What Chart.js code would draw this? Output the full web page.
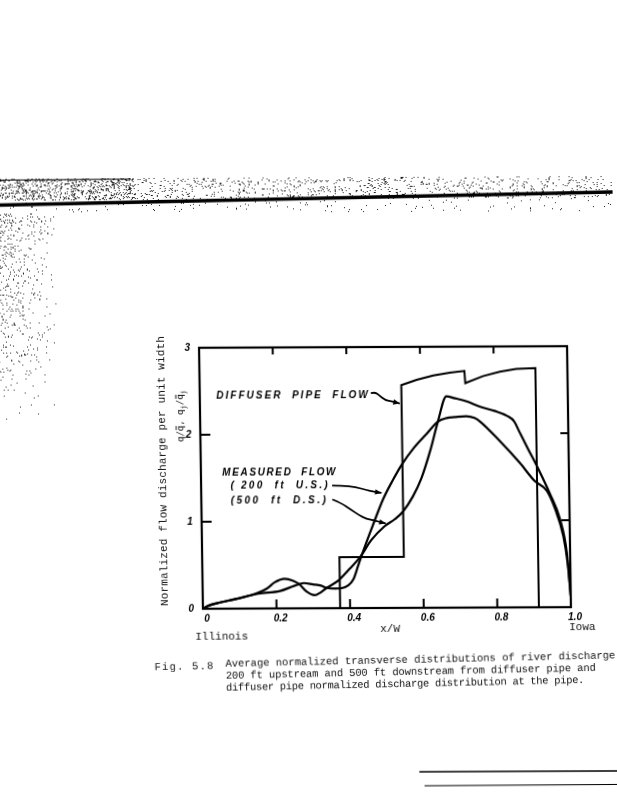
<!DOCTYPE html>
<html>
<head>
<meta charset="utf-8">
<script src="https://cdn.jsdelivr.net/npm/chart.js@4.4.0/dist/chart.umd.min.js"></script>
<style>
html, body { margin: 0; padding: 0; background: #fff; }
#wrap { width: 617px; height: 800px; position: relative; overflow: hidden; background: #fff; }
#c { display: block; transform-origin: 384px 478px; transform: rotate(-0.25deg) skewX(0.6deg); }
</style>
</head>
<body>
<div id="wrap"><canvas id="c" width="617" height="800"></canvas></div>
<script>
// axis ticks
const xTicks = [0, 0.2, 0.4, 0.6, 0.8, 1.0];
const yTicks = [0, 1, 2, 3];

// diffuser pipe flow (step distribution at the pipe)
const pipeX = [0, 0.373, 0.373, 0.548, 0.548, 0.59, 0.635, 0.68, 0.72, 0.722, 0.77, 0.816, 0.861, 0.913, 0.913, 1.0];
const pipeY = [0, 0, 0.585, 0.585, 2.56, 2.62, 2.67, 2.70, 2.72, 2.58, 2.66, 2.71, 2.74, 2.75, 0, 0];

// measured flow, 200 ft upstream
const usX = [0, 0.012, 0.04, 0.09, 0.15, 0.21, 0.25, 0.275, 0.30, 0.322, 0.336, 0.36, 0.378, 0.395, 0.41, 0.423, 0.433, 0.465, 0.494, 0.52,
             0.545, 0.58, 0.615, 0.646, 0.67, 0.692, 0.723, 0.745, 0.76, 0.814, 0.867, 0.907, 0.939, 0.961, 0.982, 0.993, 1.0];
const usY = [0, 0.03, 0.065, 0.11, 0.17, 0.2, 0.26, 0.29, 0.275, 0.26, 0.235, 0.225, 0.23, 0.26, 0.33, 0.48, 0.6, 0.95, 1.25, 1.46,
             1.64, 1.84, 2.0, 2.14, 2.18, 2.19, 2.2, 2.18, 2.14, 1.91, 1.66, 1.45, 1.34, 1.13, 0.82, 0.5, 0.13];

// measured flow, 500 ft downstream
const dsX = [0, 0.012, 0.04, 0.09, 0.15, 0.175, 0.196, 0.223, 0.245, 0.262, 0.283, 0.304, 0.32, 0.336, 0.37, 0.40, 0.43, 0.46, 0.497, 0.525,
             0.548, 0.575, 0.599, 0.625, 0.646, 0.67, 0.69, 0.725, 0.76, 0.80, 0.835, 0.853, 0.868, 0.89, 0.917, 0.948, 0.974, 0.991, 1.0];
const dsY = [0, 0.03, 0.065, 0.11, 0.18, 0.23, 0.3, 0.34, 0.32, 0.28, 0.19, 0.15, 0.18, 0.23, 0.32, 0.45, 0.59, 0.78, 0.94, 1.02,
             1.11, 1.28, 1.49, 1.82, 2.14, 2.43, 2.41, 2.37, 2.31, 2.26, 2.2, 2.14, 2.01, 1.82, 1.59, 1.3, 1.01, 0.63, 0.13];

const pts = (xs, ys) => xs.map((x, i) => ({ x: x, y: ys[i] }));

const LETTER = 'italic bold 10px "Liberation Sans"';
const TYPE = '11px "Liberation Mono"';

// labels drawn inside the plot (data coordinates)
const notes = [
    { text: 'DIFFUSER  PIPE  FLOW', x: 0.045, y: 2.41, x2: 0.462 },
    { text: 'MEASURED  FLOW', x: 0.058, y: 1.53, x2: 0.37 },
    { text: '( 200  ft  U.S.)', x: 0.08, y: 1.375, x2: 0.35 },
    { text: '(500  ft  D.S.)', x: 0.08, y: 1.21, x2: 0.345 }
];
const arrows = [
    [[0.465, 2.47], [0.476, 2.48], [0.486, 2.45], [0.503, 2.39], [0.524, 2.37], [0.543, 2.35]],
    [[0.356, 1.41], [0.38, 1.41], [0.421, 1.39], [0.448, 1.357], [0.47, 1.337], [0.49, 1.322]],
    [[0.356, 1.25], [0.38, 1.208], [0.408, 1.128], [0.427, 1.07], [0.448, 1.025], [0.47, 1.005], [0.5, 0.972]]
];

function fitText(ctx, str, x, y, w) {
    ctx.letterSpacing = '0px';
    const m = ctx.measureText(str).width;
    ctx.letterSpacing = ((w - m) / str.length) + 'px';
    ctx.fillText(str, x, y);
    ctx.letterSpacing = '0px';
}

function hash(i, j) {
    const h = Math.sin(i * 127.1 + j * 311.7) * 43758.5453;
    return h - Math.floor(h);
}

const paperPlugin = {
    id: 'paper',
    beforeDraw(chart) {
        const ctx = chart.ctx;
        ctx.save();
        ctx.fillStyle = '#fff';
        ctx.fillRect(0, 0, chart.width, chart.height);
        // scan speckle along the page edge
        ctx.fillStyle = '#222';
        for (let y = 177; y < 212; y++) {
            for (let x = 0; x < 617; x++) {
                let d = y < 199 ? (x < 140 ? 0.22 : 0.08) : 0.015;
                if (hash(x, y) < d) ctx.fillRect(x, y, 1, 1);
            }
        }
        for (let y = 212; y < 430; y++) {
            for (let x = 0; x < 62; x++) {
                const d = 0.14 * (1 - x / 62) * (1 - (y - 212) / 218);
                if (hash(x + 700, y) < d) ctx.fillRect(x, y, 1, 1);
            }
        }
        // dark edge of the page
        ctx.strokeStyle = '#000';
        ctx.lineWidth = 3.5;
        ctx.beginPath();
        ctx.moveTo(0, 203.5);
        ctx.lineTo(617, 193);
        ctx.stroke();
        ctx.lineWidth = 1;
        ctx.beginPath();
        ctx.moveTo(0, 178.5);
        ctx.lineTo(135, 178);
        ctx.stroke();
        // rules at bottom right
        ctx.lineWidth = 1.5;
        ctx.beginPath();
        ctx.moveTo(415, 772);
        ctx.lineTo(617, 772);
        ctx.stroke();
        ctx.lineWidth = 1.2;
        ctx.beginPath();
        ctx.moveTo(420, 786);
        ctx.lineTo(617, 785.5);
        ctx.stroke();
        ctx.restore();
    },
    afterDraw(chart) {
        const ctx = chart.ctx;
        const a = chart.chartArea;
        const xs = chart.scales.x, ys = chart.scales.y;
        ctx.save();
        ctx.strokeStyle = '#000';
        ctx.fillStyle = '#000';

        // frame
        ctx.lineWidth = 2.2;
        ctx.strokeRect(a.left, a.top, a.right - a.left, a.bottom - a.top);

        // inward ticks
        ctx.lineWidth = 2;
        ctx.beginPath();
        xTicks.slice(1, -1).forEach(v => {
            const px = xs.getPixelForValue(v);
            ctx.moveTo(px, a.bottom); ctx.lineTo(px, a.bottom - 9);
            ctx.moveTo(px, a.top); ctx.lineTo(px, a.top + 7);
        });
        yTicks.slice(1, -1).forEach(v => {
            const py = ys.getPixelForValue(v);
            ctx.moveTo(a.left, py); ctx.lineTo(a.left + 10, py);
            ctx.moveTo(a.right, py); ctx.lineTo(a.right - 8, py);
        });
        ctx.stroke();

        // lettered notes
        ctx.font = LETTER;
        ctx.textBaseline = 'alphabetic';
        notes.forEach(n => {
            const x1 = xs.getPixelForValue(n.x), x2 = xs.getPixelForValue(n.x2);
            fitText(ctx, n.text, x1, ys.getPixelForValue(n.y), x2 - x1);
        });

        // arrows
        ctx.lineWidth = 1.8;
        arrows.forEach(path => {
            const p = path.map(q => [xs.getPixelForValue(q[0]), ys.getPixelForValue(q[1])]);
            ctx.beginPath();
            ctx.moveTo(p[0][0], p[0][1]);
            for (let i = 1; i < p.length - 1; i++) {
                const mx = (p[i][0] + p[i + 1][0]) / 2, my = (p[i][1] + p[i + 1][1]) / 2;
                ctx.quadraticCurveTo(p[i][0], p[i][1], mx, my);
            }
            const e = p[p.length - 1], b = p[p.length - 2];
            ctx.lineTo(e[0], e[1]);
            ctx.stroke();
            const ang = Math.atan2(e[1] - b[1], e[0] - b[0]);
            ctx.beginPath();
            ctx.moveTo(e[0], e[1]);
            ctx.lineTo(e[0] - 7 * Math.cos(ang - 0.4), e[1] - 7 * Math.sin(ang - 0.4));
            ctx.lineTo(e[0] - 7 * Math.cos(ang + 0.4), e[1] - 7 * Math.sin(ang + 0.4));
            ctx.closePath();
            ctx.fill();
        });

        // typewritten labels
        ctx.fillStyle = '#111';
        ctx.font = TYPE;
        ctx.textAlign = 'left';
        ctx.fillText('x/W', 378, 632);
        ctx.fillText('Illinois', 193, 639);
        ctx.fillText('Iowa', 567, 631);

        // y axis title
        ctx.save();
        ctx.translate(166, 470);
        ctx.rotate(-Math.PI / 2);
        ctx.textAlign = 'left';
        fitText(ctx, 'Normalized flow discharge per unit width', -135, 0, 270);
        ctx.restore();

        ctx.save();
        ctx.translate(184, 441);
        ctx.rotate(-Math.PI / 2);
        ctx.textAlign = 'left';
        const big = '9px "DejaVu Sans Mono"', small = '7px "DejaVu Sans Mono"';
        let cx = 0;
        const put = (s, dy, f) => {
            ctx.font = f;
            ctx.fillText(s, cx, dy);
            cx += ctx.measureText(s).width;
        };
        const bar = (x0) => {
            ctx.fillRect(x0 + 1, -7.5, 4, 1);
        };
        put('q/', 0, big);
        bar(cx); put('q', 0, big);
        put(', q', 0, big);
        put('j', 2.5, small);
        put('/', 0, big);
        bar(cx); put('q', 0, big);
        put('j', 2.5, small);
        ctx.restore();

        // caption
        ctx.save();
        ctx.translate(222.7, 666);
        ctx.rotate(-0.017);
        ctx.font = '10.5px "Liberation Mono"';
        fitText(ctx, 'Fig. 5.8', -71, 2, 60);
        fitText(ctx, 'Average normalized transverse distributions of river discharge', 0, 0, 390);
        fitText(ctx, '200 ft upstream and 500 ft downstream from diffuser pipe and', 0, 12, 370);
        fitText(ctx, 'diffuser pipe normalized discharge distribution at the pipe.', 0, 24, 358);
        ctx.restore();

        ctx.restore();
    }
};

const tickFont = { family: 'Liberation Sans', size: 10, style: 'italic', weight: 'bold' };

new Chart(document.getElementById('c'), {
    type: 'line',
    data: {
        datasets: [
            { label: 'Diffuser pipe flow', data: pts(pipeX, pipeY), borderColor: '#000', borderWidth: 2, tension: 0, pointRadius: 0 },
            { label: 'Measured flow (200 ft U.S.)', data: pts(usX, usY), borderColor: '#000', borderWidth: 2.2, cubicInterpolationMode: 'monotone', pointRadius: 0 },
            { label: 'Measured flow (500 ft D.S.)', data: pts(dsX, dsY), borderColor: '#000', borderWidth: 2.2, cubicInterpolationMode: 'monotone', pointRadius: 0 }
        ]
    },
    options: {
        responsive: false,
        animation: false,
        devicePixelRatio: 1,
        layout: { padding: { left: 161, top: 347, right: 48, bottom: 162 } },
        plugins: { legend: { display: false }, tooltip: { enabled: false } },
        scales: {
            x: {
                type: 'linear', min: 0, max: 1,
                afterBuildTicks: s => { s.ticks = xTicks.map(v => ({ value: v })); },
                afterFit: s => { s.height = 30; },
                grid: { display: false, drawTicks: false },
                border: { display: false },
                ticks: {
                    font: tickFont, color: '#000', padding: 4, labelOffset: 4, maxRotation: 0, autoSkip: false,
                    callback: v => v === 0 ? '0' : v.toFixed(1)
                }
            },
            y: {
                type: 'linear', min: 0, max: 3,
                afterBuildTicks: s => { s.ticks = yTicks.map(v => ({ value: v })); },
                afterFit: s => { s.width = 40; },
                grid: { display: false, drawTicks: false },
                border: { display: false },
                ticks: { font: tickFont, color: '#000', padding: 9, callback: v => String(v) }
            }
        }
    },
    plugins: [paperPlugin]
});
</script>
</body>
</html>
